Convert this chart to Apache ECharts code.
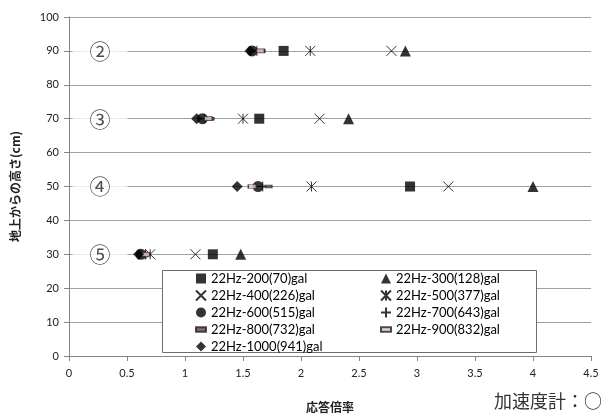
<!DOCTYPE html>
<html>
<head>
<meta charset="utf-8">
<script src="https://cdn.jsdelivr.net/npm/echarts@6/dist/echarts.min.js"></script>
<style>
  html, body { margin: 0; padding: 0; background: #fff; }
  #chart { width: 606px; height: 419px; }
</style>
</head>
<body>
<div id="chart"></div>
<script>
// Sensor heights above ground (cm) and their position labels
const heights = [90, 70, 50, 30];
const positionLabels = ['②', '③', '④', '⑤'];

// Excitation cases (22 Hz, input level and measured gal)
const caseNames = [
  '22Hz-200(70)gal', '22Hz-300(128)gal', '22Hz-400(226)gal',
  '22Hz-500(377)gal', '22Hz-600(515)gal', '22Hz-700(643)gal',
  '22Hz-800(732)gal', '22Hz-900(832)gal', '22Hz-1000(941)gal'
];

// Response magnification at heights 90, 70, 50, 30 cm
const ratio200  = [1.85, 1.64, 2.94, 1.24];
const ratio300  = [2.90, 2.41, 4.00, 1.48];
const ratio400  = [2.78, 2.16, 3.27, 1.09];
const ratio500  = [2.08, 1.50, 2.09, 0.70];
const ratio600  = [1.58, 1.15, 1.63, 0.62];
const ratio700  = [1.62, 1.17, 1.67, 0.66];
const ratio800  = [1.66, 1.22, 1.72, 0.65];
const ratio900  = [1.65, 1.20, 1.58, 0.66];
const ratio1000 = [1.56, 1.10, 1.45, 0.60];

const xTicks = [0, 0.5, 1, 1.5, 2, 2.5, 3, 3.5, 4, 4.5];
const yTicks = [0, 10, 20, 30, 40, 50, 60, 70, 80, 90, 100];

const allRatios = [ratio200, ratio300, ratio400, ratio500, ratio600,
                   ratio700, ratio800, ratio900, ratio1000];

// Marker shapes for each case
const SYM_X = 'path://M0,0L10,10M10,0L0,10';
const SYM_AST = 'path://M0,0L10,10M10,0L0,10M5,0L5,10';
const SYM_PLUS = 'path://M5,0L5,10M0,5L10,5';

const filled = { color: '#000', borderWidth: 0 };
const stroked = { color: 'transparent', borderColor: '#000', borderWidth: 1 };

const markerStyles = [
  { symbol: 'rect', symbolSize: 10, itemStyle: filled },
  { symbol: 'triangle', symbolSize: 11, itemStyle: filled },
  { symbol: SYM_X, symbolSize: 10, itemStyle: stroked },
  { symbol: SYM_AST, symbolSize: 10, itemStyle: stroked },
  { symbol: 'circle', symbolSize: 11, itemStyle: filled },
  { symbol: SYM_PLUS, symbolSize: 10, itemStyle: stroked },
  { symbol: 'rect', symbolSize: [7, 3], itemStyle: { color: '#6b4a4a', borderColor: '#222', borderWidth: 0.8 } },
  { symbol: 'rect', symbolSize: [8, 4], itemStyle: { color: '#e8c8c8', borderColor: '#222', borderWidth: 1 } },
  { symbol: 'diamond', symbolSize: 11, itemStyle: filled }
];

const caseSeries = caseNames.map((name, i) => Object.assign({
  name: name,
  type: 'scatter',
  silent: true,
  z: 3,
  data: heights.map((h, k) => [allRatios[i][k], h])
}, markerStyles[i]));

// Position numerals at the left end of each sensor row
const positionSeries = {
  name: 'position',
  type: 'scatter',
  silent: true,
  z: 2,
  symbolSize: 1,
  itemStyle: { color: 'transparent' },
  data: heights.map((h, k) => ({ value: [0, h], label: { formatter: positionLabels[k] } })),
  label: {
    show: true,
    position: 'inside',
    offset: [31, 0],
    backgroundColor: '#fff',
    padding: [2, 17],
    fontSize: 21,
    color: '#222',
    fontFamily: '"Noto Sans CJK JP", sans-serif'
  }
};

const legendText = { fontSize: 13, color: '#000', fontFamily: 'Lato, "Open Sans", sans-serif' };
const legendCommon = {
  orient: 'vertical',
  top: 272,
  itemWidth: 10,
  itemHeight: 10,
  itemGap: 4,
  selectedMode: false,
  textStyle: legendText,
  padding: 0
};
const legendItem = (i) => {
  if (i === 6) return { name: caseNames[i], icon: 'path://M0,0L7,0L7,3L0,3Z' };
  if (i === 7) return { name: caseNames[i], icon: 'path://M0,0L9,0L9,4L0,4Z' };
  return { name: caseNames[i] };
};

const chart = echarts.init(document.getElementById('chart'));
chart.setOption({
  animation: false,
  backgroundColor: '#fff',
  grid: { left: 69, right: 15, top: 17, bottom: 63 },
  xAxis: {
    type: 'value',
    min: xTicks[0],
    max: xTicks[xTicks.length - 1],
    interval: 0.5,
    name: '応答倍率',
    nameLocation: 'middle',
    nameGap: 45,
    nameTextStyle: { fontSize: 12, fontWeight: 'bold', color: '#222', fontFamily: '"Noto Sans CJK JP", sans-serif' },
    axisLine: { show: true, lineStyle: { color: '#868686', width: 1 } },
    axisTick: { show: true, inside: false, length: 5, lineStyle: { color: '#868686' } },
    axisLabel: { fontSize: 11, color: '#222', margin: 12, fontFamily: 'Lato, "Open Sans", sans-serif' },
    splitLine: { show: false }
  },
  yAxis: {
    type: 'value',
    min: yTicks[0],
    max: yTicks[yTicks.length - 1],
    interval: 10,
    name: '地上からの高さ(cm)',
    nameLocation: 'middle',
    nameRotate: 90,
    nameGap: 48,
    nameTextStyle: { fontSize: 12, fontWeight: 'bold', color: '#222', fontFamily: '"Noto Sans CJK JP", sans-serif' },
    axisLine: { show: true, lineStyle: { color: '#868686', width: 1 } },
    axisTick: { show: true, inside: false, length: 5, lineStyle: { color: '#868686' } },
    axisLabel: { fontSize: 11, color: '#222', margin: 10, fontFamily: 'Lato, "Open Sans", sans-serif' },
    splitLine: { show: true, lineStyle: { color: '#a0a0a0', width: 1 } }
  },
  legend: [
    Object.assign({ left: 195, data: [0, 2, 4, 6, 8].map(legendItem) }, legendCommon),
    Object.assign({ left: 380, data: [1, 3, 5, 7].map(legendItem) }, legendCommon)
  ],
  graphic: [
    {
      type: 'rect',
      z: 3,
      shape: { x: 162.5, y: 270.5, width: 374, height: 82 },
      style: { fill: '#fff', stroke: '#6e6e6e', lineWidth: 1 }
    },
    {
      type: 'text',
      right: 4,
      top: 392,
      style: {
        text: '加速度計：○',
        fontSize: 18,
        fill: '#333',
        fontFamily: '"Noto Sans CJK JP", sans-serif'
      }
    }
  ],
  series: [positionSeries].concat(caseSeries)
});
</script>
</body>
</html>
